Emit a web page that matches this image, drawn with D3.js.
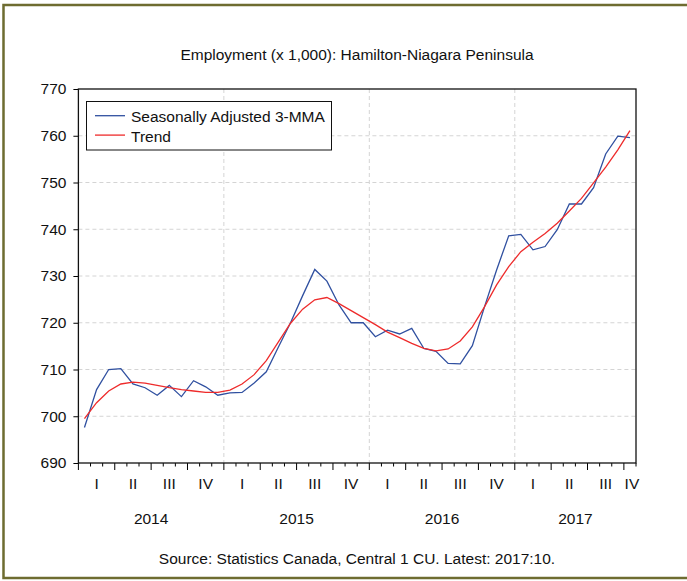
<!DOCTYPE html>
<html>
<head>
<meta charset="utf-8">
<script src="https://cdn.jsdelivr.net/npm/d3@7"></script>
<style>
  html, body { margin: 0; padding: 0; background: #fff; }
  svg { display: block; font-family: "Liberation Sans", Arial, sans-serif; }
</style>
</head>
<body>
<svg id="chart" width="687" height="581"></svg>
<script>
const startYear = 2014;
const nMonths = 46;
const saValues = [697.6, 705.7, 710.0, 710.2, 706.9, 706.1, 704.5, 706.6, 704.2, 707.6, 706.3, 704.5,
  705.0, 705.1, 707.1, 709.5, 714.8, 720.0, 725.8, 731.4, 728.9, 723.8, 720.0, 720.0,
  717.0, 718.4, 717.6, 718.8, 714.5, 713.9, 711.3, 711.2, 715.1, 723.4, 731.3, 738.6,
  738.9, 735.6, 736.3, 739.9, 745.4, 745.4, 748.9, 756.1, 759.9, 759.6];
const trendValues = [699.5, 702.9, 705.4, 706.9, 707.3, 707.1, 706.6, 706.1, 705.7, 705.4, 705.1, 705.1,
  705.6, 706.9, 708.9, 711.9, 715.9, 719.9, 722.9, 724.9, 725.4, 724.1, 722.6, 721.1,
  719.6, 718.0, 716.8, 715.6, 714.5, 714.0, 714.4, 716.1, 719.1, 723.4, 728.1, 732.0,
  735.2, 737.2, 739.1, 741.3, 743.9, 746.6, 749.9, 753.3, 757.0, 761.1];
const yTicks = [690, 700, 710, 720, 730, 740, 750, 760, 770];
const quarterLabels = ["I", "II", "III", "IV"];
const yearLabels = ["2014", "2015", "2016", "2017"];
const seriesNames = ["Seasonally Adjusted 3-MMA", "Trend"];
const titleText = "Employment (x 1,000): Hamilton-Niagara Peninsula";
const sourceText = "Source: Statistics Canada, Central 1 CU. Latest: 2017:10.";

const FS = 15.5;
const svg = d3.select("#chart");
const L = 78.4, R = 636, T = 89, B = 463;
const x = d3.scaleLinear().domain([0, nMonths]).range([L, R]);
const y = d3.scaleLinear().domain([690, 770]).range([B, T]);
const blue = "#3050a0", red = "#ee2b2b";

// outer frame
svg.append("rect").attr("x", 3.5).attr("y", 5).attr("width", 700).attr("height", 573)
  .attr("fill", "none").attr("stroke", "#6e6c30").attr("stroke-width", 2.5);

// title
svg.append("text").attr("x", 357).attr("y", 60).attr("text-anchor", "middle")
  .attr("font-size", FS).attr("fill", "#111").text(titleText);

// horizontal grid
svg.append("g").selectAll("line").data(yTicks.filter(d => d > 690 && d < 770)).join("line")
  .attr("x1", L).attr("x2", R).attr("y1", d => y(d)).attr("y2", d => y(d))
  .attr("stroke", "#d4d4d4").attr("stroke-dasharray", "4,3").attr("stroke-width", 1);
// vertical grid at year boundaries
const yearStarts = yearLabels.map((_, i) => i * 12).filter(m => m > 0);
svg.append("g").selectAll("line").data(yearStarts).join("line")
  .attr("x1", d => x(d)).attr("x2", d => x(d)).attr("y1", T).attr("y2", B)
  .attr("stroke", "#d4d4d4").attr("stroke-dasharray", "4,3").attr("stroke-width", 1);

// y axis
const yAxis = d3.axisLeft(y).tickValues(yTicks).tickSize(5).tickPadding(7).tickFormat(d3.format("d"));
const gy = svg.append("g").attr("transform", `translate(${L},0)`).call(yAxis);
gy.select(".domain").remove();
gy.selectAll(".tick line").attr("stroke", "#000");
gy.selectAll("text").attr("font-size", FS).attr("fill", "#111").attr("font-family", "Liberation Sans, Arial, sans-serif");

// x axis ticks (month boundaries)
const monthBounds = d3.range(0, nMonths + 1);
svg.append("g").selectAll("line").data(monthBounds).join("line")
  .attr("x1", d => x(d)).attr("x2", d => x(d)).attr("y1", B)
  .attr("y2", d => B + (d % 3 === 0 ? 7 : 3.5))
  .attr("stroke", "#000").attr("stroke-width", 1);

// quarter labels
const quarters = d3.range(0, Math.ceil(nMonths / 3)).map(q => ({
  q, label: quarterLabels[q % 4],
  c: (q * 3 + Math.min(q * 3 + 3, nMonths)) / 2
}));
svg.append("g").selectAll("text").data(quarters).join("text")
  .attr("x", d => x(d.c) + (d.q * 3 + 3 > nMonths ? 2 : 0)).attr("y", 489)
  .attr("text-anchor", "middle").attr("font-size", FS).attr("fill", "#111")
  .text(d => d.label);

// year labels
svg.append("g").selectAll("text").data(yearLabels).join("text")
  .attr("x", (d, i) => x((i * 12 + Math.min(i * 12 + 12, nMonths)) / 2)).attr("y", 524)
  .attr("text-anchor", "middle").attr("font-size", FS).attr("fill", "#111")
  .text(d => d);

// lines
const line = d3.line().x((d, i) => x(i + 0.5)).y(d => y(d));
svg.append("path").datum(saValues).attr("d", line).attr("fill", "none")
  .attr("stroke", blue).attr("stroke-width", 1.3);
svg.append("path").datum(trendValues).attr("d", line).attr("fill", "none")
  .attr("stroke", red).attr("stroke-width", 1.3);

// plot frame
svg.append("rect").attr("x", L).attr("y", T).attr("width", R - L).attr("height", B - T)
  .attr("fill", "none").attr("stroke", "#111").attr("stroke-width", 1.3);

// legend
const lg = svg.append("g");
lg.append("rect").attr("x", 86.5).attr("y", 101.5).attr("width", 245).attr("height", 48.5)
  .attr("fill", "#fff").attr("stroke", "#111").attr("stroke-width", 1);
const colors = [blue, red];
seriesNames.forEach((name, i) => {
  const yy = 115.7 + i * 19.4;
  lg.append("line").attr("x1", 95).attr("x2", 125).attr("y1", yy).attr("y2", yy)
    .attr("stroke", colors[i]).attr("stroke-width", 1.3);
  lg.append("text").attr("x", 131).attr("y", yy + 6.5).attr("font-size", FS).attr("fill", "#111")
    .text(name);
});

// source
svg.append("text").attr("x", 357).attr("y", 564).attr("text-anchor", "middle")
  .attr("font-size", FS).attr("fill", "#111").text(sourceText);
</script>
</body>
</html>
